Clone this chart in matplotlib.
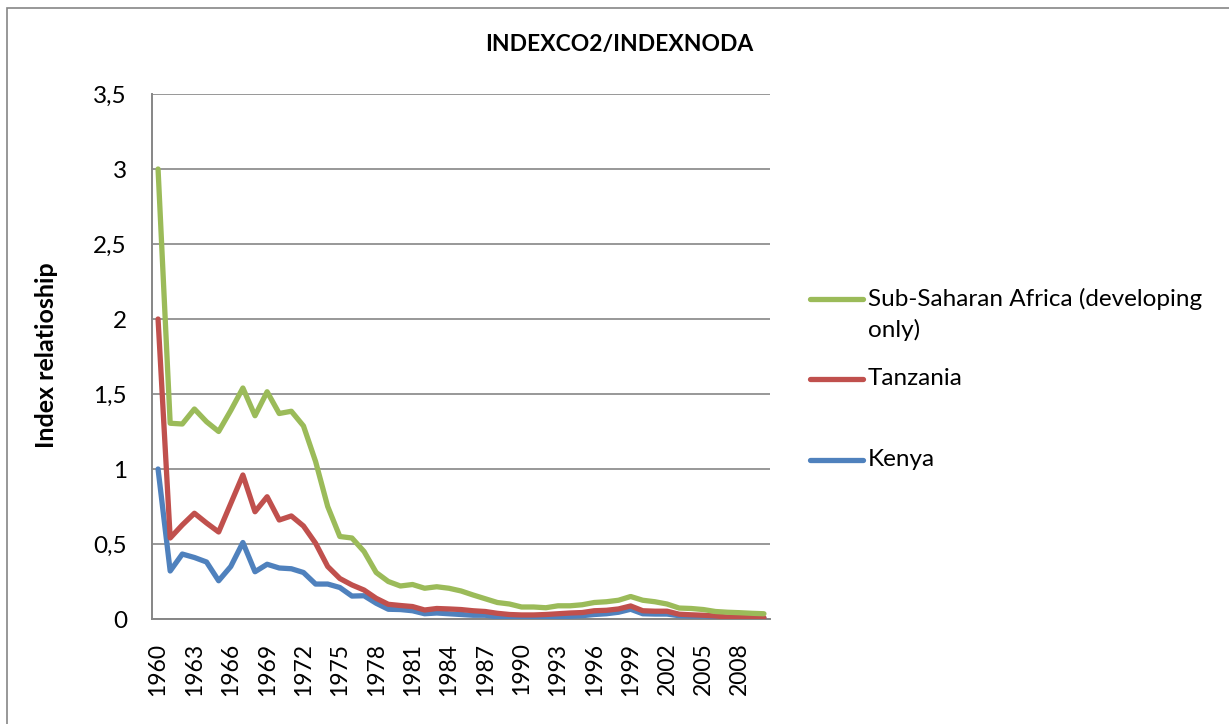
import matplotlib
matplotlib.use("Agg")
import matplotlib.pyplot as plt
from matplotlib.lines import Line2D
from matplotlib.patches import Rectangle

plt.rcParams['font.family'] = ['Lato', 'DejaVu Sans']

years = list(range(1960, 2011))

ssa = [3.0, 1.305, 1.30, 1.40, 1.315, 1.25, 1.39, 1.54, 1.355, 1.515,
       1.37, 1.385, 1.287, 1.05, 0.75, 0.55, 0.54, 0.45, 0.31, 0.25,
       0.22, 0.23, 0.205, 0.215, 0.205, 0.187, 0.16, 0.135, 0.11, 0.10,
       0.08, 0.08, 0.075, 0.088, 0.088, 0.095, 0.11, 0.115, 0.125, 0.15,
       0.125, 0.115, 0.10, 0.073, 0.07, 0.063, 0.05, 0.045, 0.042, 0.038,
       0.035]
tanzania = [2.0, 0.54, 0.627, 0.705, 0.64, 0.58, 0.77, 0.96, 0.715, 0.815,
            0.66, 0.687, 0.62, 0.505, 0.35, 0.27, 0.227, 0.193, 0.138, 0.098,
            0.09, 0.083, 0.06, 0.07, 0.067, 0.063, 0.055, 0.05, 0.038, 0.03,
            0.027, 0.027, 0.03, 0.035, 0.04, 0.043, 0.055, 0.058, 0.067, 0.087,
            0.055, 0.052, 0.052, 0.032, 0.028, 0.025, 0.02, 0.013, 0.012, 0.01,
            0.008]
kenya = [1.0, 0.32, 0.433, 0.41, 0.38, 0.255, 0.35, 0.51, 0.315, 0.365,
         0.34, 0.335, 0.31, 0.233, 0.233, 0.21, 0.153, 0.155, 0.105, 0.065,
         0.063, 0.055, 0.035, 0.04, 0.035, 0.03, 0.025, 0.025, 0.015, 0.012,
         0.01, 0.012, 0.013, 0.015, 0.018, 0.022, 0.03, 0.035, 0.045, 0.065,
         0.035, 0.033, 0.033, 0.022, 0.02, 0.02, 0.015, 0.01, 0.008, 0.007,
         0.006]

names = ["Sub-Saharan Africa (developing\nonly)", "Tanzania", "Kenya"]
colors = ["#9BBB59", "#C0504D", "#4F81BD"]
yticks = [0, 0.5, 1, 1.5, 2, 2.5, 3, 3.5]

W, H = 1229, 724
fig = plt.figure(figsize=(W / 100, H / 100), dpi=100)
ax = fig.add_axes([152 / W, 1 - 619 / H, 618 / W, 525 / H])

grey = "#868686"
x = list(range(len(years)))
# kenya first so the others sit on top, like the original
for vals, c in zip([kenya, tanzania, ssa], colors[::-1]):
    ax.plot(x, vals, color=c, lw=3.8, solid_capstyle="round", solid_joinstyle="round", zorder=3)

ax.set_xlim(-0.5, len(years) - 0.5)
ax.set_ylim(0, 3.5)
ax.set_yticks(yticks)
ax.set_yticklabels([("%g" % v).replace(".", ",") for v in yticks])
ax.set_xticks(x[::3])
ax.set_xticklabels([str(y) for y in years[::3]], rotation=90)
ax.tick_params(axis="both", length=0)
ax.tick_params(axis="y", pad=18, labelsize=17.5)
ax.tick_params(axis="x", pad=17, labelsize=16.5)
ax.grid(axis="y", color=grey, lw=1.2, zorder=1)
ax.set_axisbelow(True)
for s in ["top", "right"]:
    ax.spines[s].set_visible(False)
for s in ["left", "bottom"]:
    ax.spines[s].set_color(grey)
    ax.spines[s].set_linewidth(1.4)
    ax.spines[s].set_zorder(2)

ax.set_ylabel("Index relatioship", fontsize=18, fontweight="bold")
ax.yaxis.set_label_coords((58 - 152) / 618, (619 - 355) / 525)

fig.text(619 / W, 1 - 44 / H, "INDEXCO2/INDEXNODA", fontsize=16.5, fontweight="bold",
         ha="center", va="center")

# legend built by hand (Excel layout)
leg_y = [299, 379, 460]
for name, c, yy in zip(names, colors, leg_y):
    fig.add_artist(Line2D([810 / W, 863 / W], [1 - yy / H, 1 - yy / H], color=c, lw=3.8,
                          solid_capstyle="round", transform=fig.transFigure))
    fig.text(868 / W, 1 - (yy - 11) / H, name, fontsize=17.5, ha="left", va="top", linespacing=1.5)

# outer chart border (only left/top visible in the original)
fig.add_artist(Rectangle((7 / W, -0.1), 1.2, 1 - 8 / H + 0.1, fill=False, edgecolor=grey,
                         lw=1.2, transform=fig.transFigure))

fig.savefig("out.png", dpi=100)
